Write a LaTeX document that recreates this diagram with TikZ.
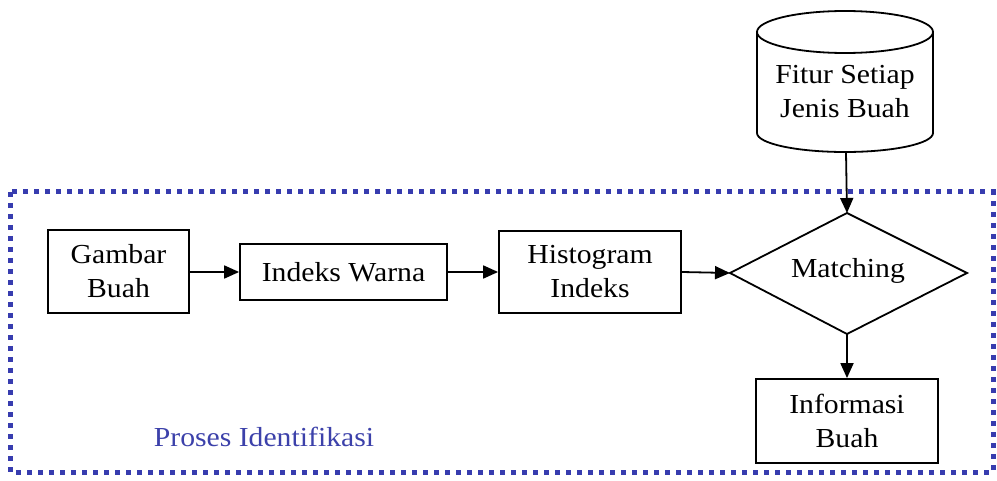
\documentclass[tikz,border=0pt]{standalone}
\usepackage{fontspec}
\setmainfont{Liberation Serif}[FakeStretch=1.08]
\usetikzlibrary{arrows.meta}
\definecolor{frameblue}{RGB}{55,60,175}
\definecolor{textblue}{RGB}{60,65,170}
\tikzset{
  box/.style={draw, line width=1.8pt, inner sep=0pt, align=center, font=\fontsize{27.5}{34}\selectfont},
  lbl/.style={align=center, font=\fontsize{27.5}{34}\selectfont},
  arr/.style={line width=1.8pt, -{Triangle[length=15pt,width=13pt]}},
  frame/.style={draw=frameblue, line width=5pt, dash pattern=on 5pt off 6pt}
}
\begin{document}
\begin{tikzpicture}[x=1pt,y=-1pt]
\useasboundingbox (0,0) rectangle (997,481);
% dotted frame
\draw[frame] (10,192) rectangle (993,472);
% boxes
\node[box, minimum width=141pt, minimum height=83pt] (gb) at (118.5,271.5) {Gambar\\Buah};
\node[box, minimum width=207pt, minimum height=56pt] (iw) at (343.5,272) {Indeks Warna};
\node[box, minimum width=182pt, minimum height=82pt] (hi) at (590,272) {Histogram\\Indeks};
\node[box, minimum width=182pt, minimum height=84pt] (ib) at (847,421) {Informasi\\Buah};
% diamond
\coordinate (dt) at (847,213);
\coordinate (dl) at (730,273);
\coordinate (dr) at (967,273);
\coordinate (db) at (847,334);
\draw[line width=1.8pt] (dt) -- (dr) -- (db) -- (dl) -- cycle;
\node[lbl] (mt) at (848,271) {Matching};
% cylinder
\draw[line width=1.8pt] (757,32) -- (757,133) arc[start angle=180, end angle=360, x radius=88, y radius=-19] -- (933,32);
\draw[line width=1.8pt] (845,32) ellipse[x radius=88, y radius=21];
\node[lbl] (fs) at (845,92) {Fitur Setiap\\Jenis Buah};
\coordinate (cb) at (846,152);
% connectors
\draw[arr] (gb.east |- iw.west) -- (iw.west);
\draw[arr] (iw.east) -- (hi.west);
\draw[arr] (hi.east) -- (dl);
\draw[arr] (cb) -- (dt);
\draw[arr] (db) -- (ib.north);
% label
\node[font=\fontsize{27.5}{34}\selectfont, text=textblue] (pi) at (264,437) {Proses Identifikasi};
\end{tikzpicture}
\end{document}
